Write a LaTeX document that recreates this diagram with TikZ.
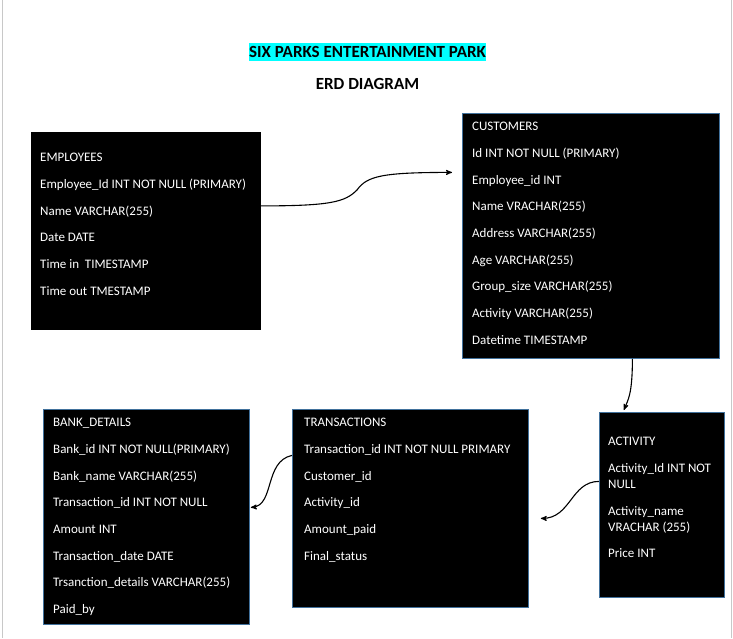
\documentclass[tikz,border=0pt]{standalone}
\usepackage{fontspec}
\setmainfont{Carlito}
\usetikzlibrary{arrows}
\definecolor{boxblue}{HTML}{41719C}
\definecolor{hilite}{HTML}{00FFFF}
\definecolor{pagegray}{HTML}{C8C8C8}
\tikzset{
	ent_box/.style = {rectangle, anchor=north west, fill=black, draw=boxblue,
		line width=0.8pt, inner sep=0pt},% boite d'une table
	ent_txt/.style = {anchor=north west, text=white, align=left, inner sep=0pt,
		font=\fontsize{13}{16}\selectfont},% champs de la table
	ent_lnk/.style = {->, >=stealth', line width=1.1pt}% lien entre tables
}
\newcommand{\rowgap}{\\[10.7pt]}

\begin{document}
\begin{tikzpicture}[x=1pt,y=-1pt]
	\useasboundingbox (0,0) rectangle (733,638);
	\draw[pagegray] (2,0) -- (2,638);
	\draw[pagegray] (731,0) -- (731,638);
	% titre
	\node[fill=hilite, inner xsep=0.5pt, inner ysep=3pt, font=\fontsize{17}{20}\selectfont\bfseries]
		(title) at (367.5,52) {SIX PARKS ENTERTAINMENT PARK};
	\node[font=\fontsize{17}{20}\selectfont\bfseries] (sub) at (367.5,84) {ERD DIAGRAM};
	% tables
	\node[ent_box, draw=black, minimum width=229pt, minimum height=197pt] (emp) at (31,132) {};
	\node[ent_box, minimum width=257pt, minimum height=245pt] (cust) at (462,113) {};
	\node[ent_box, minimum width=206pt, minimum height=215pt] (bank) at (43,409) {};
	\node[ent_box, minimum width=236pt, minimum height=198pt] (trans) at (292,409) {};
	\node[ent_box, minimum width=125pt, minimum height=185pt] (act) at (599,412) {};
	% champs
	\node[ent_txt] (emp_t) at (40,153) {EMPLOYEES\rowgap Employee\_Id INT NOT NULL (PRIMARY)\rowgap
		Name VARCHAR(255)\rowgap Date DATE\rowgap Time in\ \ TIMESTAMP\rowgap Time out TMESTAMP};
	\node[ent_txt] (cust_t) at (472,122) {CUSTOMERS\rowgap Id INT NOT NULL (PRIMARY)\rowgap
		Employee\_id INT\rowgap Name VRACHAR(255)\rowgap Address VARCHAR(255)\rowgap
		Age VARCHAR(255)\rowgap Group\_size VARCHAR(255)\rowgap Activity VARCHAR(255)\rowgap
		Datetime TIMESTAMP};
	\node[ent_txt] (bank_t) at (53,418) {BANK\_DETAILS\rowgap Bank\_id INT NOT NULL(PRIMARY)\rowgap
		Bank\_name VARCHAR(255)\rowgap Transaction\_id INT NOT NULL\rowgap Amount INT\rowgap
		Transaction\_date DATE\rowgap Trsanction\_details VARCHAR(255)\rowgap Paid\_by};
	\node[ent_txt] (trans_t) at (304,418) {TRANSACTIONS\rowgap Transaction\_id INT NOT NULL PRIMARY\rowgap
		Customer\_id\rowgap Activity\_id\rowgap Amount\_paid\rowgap Final\_status};
	\node[ent_txt] (act_t) at (608,437) {ACTIVITY\rowgap Activity\_Id INT NOT\\ NULL\rowgap
		Activity\_name\\ VRACHAR (255)\rowgap Price INT};
	% liens
	\draw[ent_lnk] ([yshift=25pt]emp.east) .. controls ++(70,0) and ++(-12,12) .. (357,190)
		.. controls ++(10,-14) and ([xshift=-80pt,yshift=63.5pt]cust.west) .. ([xshift=-10pt,yshift=63.5pt]cust.west);
	\draw[ent_lnk] ([xshift=41.5pt]cust.south) .. controls ++(0,36) and ++(4,-10) .. ([xshift=-38pt,yshift=2pt]act.north);
	\draw[ent_lnk] ([yshift=23.5pt]act.west) .. controls ++(-28,0) and ++(30,0) .. ([xshift=12pt,yshift=-10pt]trans.east);
	\draw[ent_lnk] ([yshift=53pt]trans.west) .. controls ++(-28,6) and ++(24,-2) .. ([xshift=1pt,yshift=9.5pt]bank.east);
\end{tikzpicture}
\end{document}
